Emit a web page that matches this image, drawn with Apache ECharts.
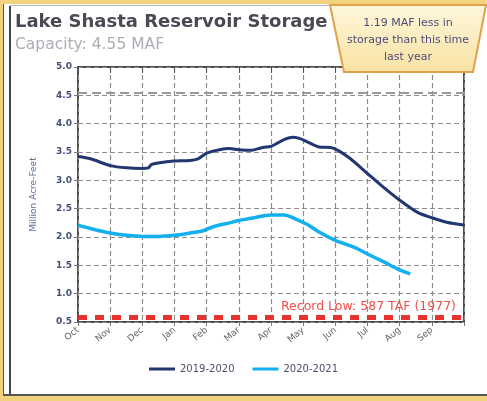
<!DOCTYPE html>
<html>
<head>
<meta charset="utf-8">
<script src="https://cdn.jsdelivr.net/npm/echarts@6/dist/echarts.min.js"></script>
<style>
  html, body { margin: 0; padding: 0; background: #fff; }
  #chart { width: 487px; height: 401px; }
</style>
</head>
<body>
<div id="chart"></div>
<script>
// month ticks on the x axis (0 = Oct 1)
var months = ['Oct', 'Nov', 'Dec', 'Jan', 'Feb', 'Mar', 'Apr', 'May', 'Jun', 'Jul', 'Aug', 'Sep'];

// 2019-2020 storage, MAF
var wy2020X = [0, 0.39, 1, 1.52, 2, 2.19, 2.29, 2.65, 3, 3.48, 3.73, 4, 4.4, 4.71, 5, 5.38, 5.74, 6, 6.21, 6.41, 6.67, 6.88, 7.13, 7.49, 7.86, 8.11, 8.47, 9, 9.51, 10, 10.54, 11, 11.46, 12];
var wy2020Y = [3.42, 3.38, 3.26, 3.22, 3.21, 3.22, 3.28, 3.32, 3.34, 3.35, 3.38, 3.48, 3.54, 3.56, 3.54, 3.53, 3.58, 3.60, 3.66, 3.72, 3.76, 3.74, 3.68, 3.59, 3.58, 3.52, 3.38, 3.12, 2.87, 2.65, 2.44, 2.34, 2.26, 2.21];

// 2020-2021 storage, MAF
var wy2021X = [0, 0.39, 1, 1.52, 2, 2.5, 3, 3.48, 3.89, 4.2, 4.71, 5, 5.38, 5.74, 6, 6.41, 6.72, 7.13, 7.55, 8, 8.58, 9, 9.51, 10, 10.33];
var wy2021Y = [2.21, 2.15, 2.07, 2.03, 2.01, 2.01, 2.03, 2.07, 2.11, 2.18, 2.25, 2.29, 2.33, 2.37, 2.39, 2.39, 2.33, 2.22, 2.07, 1.94, 1.82, 1.70, 1.56, 1.42, 1.35];

var capacity = 4.55;
var recordLow = 0.587;

function zip(xs, ys) {
    var out = [];
    for (var i = 0; i < xs.length; i++) {
        out.push([xs[i], ys[i]]);
    }
    return out;
}

var chart = echarts.init(document.getElementById('chart'));

var option = {
    animation: false,
    backgroundColor: '#fff',
    grid: {
        left: 78, right: 23, top: 67, bottom: 79,
        show: true,
        borderColor: '#4a4a4a',
        borderWidth: 2,
        backgroundColor: 'transparent'
    },
    legend: {
        bottom: 22,
        left: 'center',
        itemWidth: 26,
        itemHeight: 3,
        itemGap: 18,
        icon: 'rect',
        textStyle: { color: '#4c5068', fontSize: 10, fontFamily: 'DejaVu Sans' },
        data: ['2019-2020', '2020-2021']
    },
    xAxis: [{
        type: 'value',
        min: 0, max: 12, interval: 1,
        axisLine: { show: false },
        axisTick: { show: true, length: 4, lineStyle: { color: '#777' } },
        splitLine: { show: true, lineStyle: { color: '#8e8e8e', type: [5, 3], width: 1.2 } },
        axisLabel: {
            rotate: 40,
            fontSize: 9,
            color: '#666',
            fontFamily: 'DejaVu Sans',
            margin: 7,
            formatter: function (v) { return months[v] || ''; }
        }
    }, {
        type: 'value',
        position: 'top',
        min: 0, max: 12, interval: 1,
        axisLine: { show: false },
        axisTick: { show: true, inside: true, length: 6, lineStyle: { color: '#555' } },
        axisLabel: { show: false },
        splitLine: { show: false }
    }],
    yAxis: {
        type: 'value',
        min: 0.5, max: 5.0, interval: 0.5,
        name: 'Million Acre-Feet',
        nameLocation: 'middle',
        nameGap: 40,
        nameRotate: 90,
        nameTextStyle: { color: '#5f6f96', fontSize: 9, fontFamily: 'DejaVu Sans' },
        axisLine: { show: false },
        axisTick: { show: true, length: 4, lineStyle: { color: '#777' } },
        splitLine: { show: true, lineStyle: { color: '#8e8e8e', type: [5, 3], width: 1.2 } },
        axisLabel: {
            fontSize: 9,
            fontWeight: 'bold',
            color: '#45507a',
            fontFamily: 'DejaVu Sans',
            margin: 6,
            formatter: function (v) { return v.toFixed(1); }
        }
    },
    series: [{
        name: '2019-2020',
        type: 'line',
        smooth: 0.3,
        symbol: 'none',
        lineStyle: { color: '#223672', width: 3 },
        itemStyle: { color: '#223672' },
        data: zip(wy2020X, wy2020Y),
        z: 5,
        markLine: {
            silent: true,
            symbol: 'none',
            animation: false,
            data: [{
                yAxis: capacity,
                lineStyle: { color: '#9a9a9a', type: [9, 5], width: 2 },
                label: { show: false }
            }, {
                yAxis: recordLow,
                lineStyle: { color: '#e8322c', type: [9, 8], width: 5 },
                label: {
                    show: true,
                    position: 'insideEndTop',
                    formatter: 'Record Low: 587 TAF (1977)',
                    color: '#f0504a',
                    fontSize: 12.5,
                    fontFamily: 'DejaVu Sans',
                    distance: [8, 4]
                }
            }]
        }
    }, {
        name: '2020-2021',
        type: 'line',
        smooth: 0.3,
        symbol: 'none',
        lineStyle: { color: '#12b0ee', width: 3.5 },
        itemStyle: { color: '#12b0ee' },
        data: zip(wy2021X, wy2021Y),
        z: 4
    }],
    graphic: [
        // outer frame
        { type: 'rect', shape: { x: 0, y: 0, width: 487, height: 4 }, style: { fill: '#f3d27e' }, z: 10 },
        { type: 'rect', shape: { x: 0, y: 396, width: 487, height: 5 }, style: { fill: '#f3d27e' }, z: 10 },
        { type: 'rect', shape: { x: 0, y: 0, width: 3, height: 401 }, style: { fill: '#f3d27e' }, z: 10 },
        { type: 'line', shape: { x1: 3.5, y1: 4, x2: 3.5, y2: 396 }, style: { stroke: '#555', lineWidth: 1 }, z: 10 },
        { type: 'line', shape: { x1: 10, y1: 6, x2: 10, y2: 395 }, style: { stroke: '#444', lineWidth: 2 }, z: 10 },
        { type: 'line', shape: { x1: 10, y1: 5.5, x2: 487, y2: 5.5 }, style: { stroke: '#bbb', lineWidth: 1 }, z: 10 },
        { type: 'line', shape: { x1: 3, y1: 395, x2: 487, y2: 395 }, style: { stroke: '#555', lineWidth: 2 }, z: 10 },
        // titles
        {
            type: 'text', left: 15, top: 13, z: 10,
            style: { text: 'Lake Shasta Reservoir Storage', fill: '#4a4a54', font: 'bold 18px "DejaVu Sans"' }
        },
        {
            type: 'text', left: 15, top: 37, z: 10,
            style: { text: 'Capacity: 4.55 MAF', fill: '#acacb4', font: '15.5px "DejaVu Sans"' }
        },
        // callout box
        {
            type: 'polygon', z: 11,
            shape: { points: [[330, 5], [486, 5], [473, 72], [344, 72]] },
            style: {
                fill: new echarts.graphic.LinearGradient(0, 0, 0, 1, [
                    { offset: 0, color: '#fef7dc' },
                    { offset: 1, color: '#f9e2a2' }
                ]),
                stroke: '#e2a24a',
                lineWidth: 2
            }
        },
        {
            type: 'text', x: 408, y: 15, z: 12,
            style: {
                text: '1.19 MAF less in\nstorage than this time\nlast year',
                fill: '#4e4c7c',
                font: '11px "DejaVu Sans"',
                align: 'center',
                lineHeight: 17
            }
        }
    ]
};

chart.setOption(option);
</script>
</body>
</html>
